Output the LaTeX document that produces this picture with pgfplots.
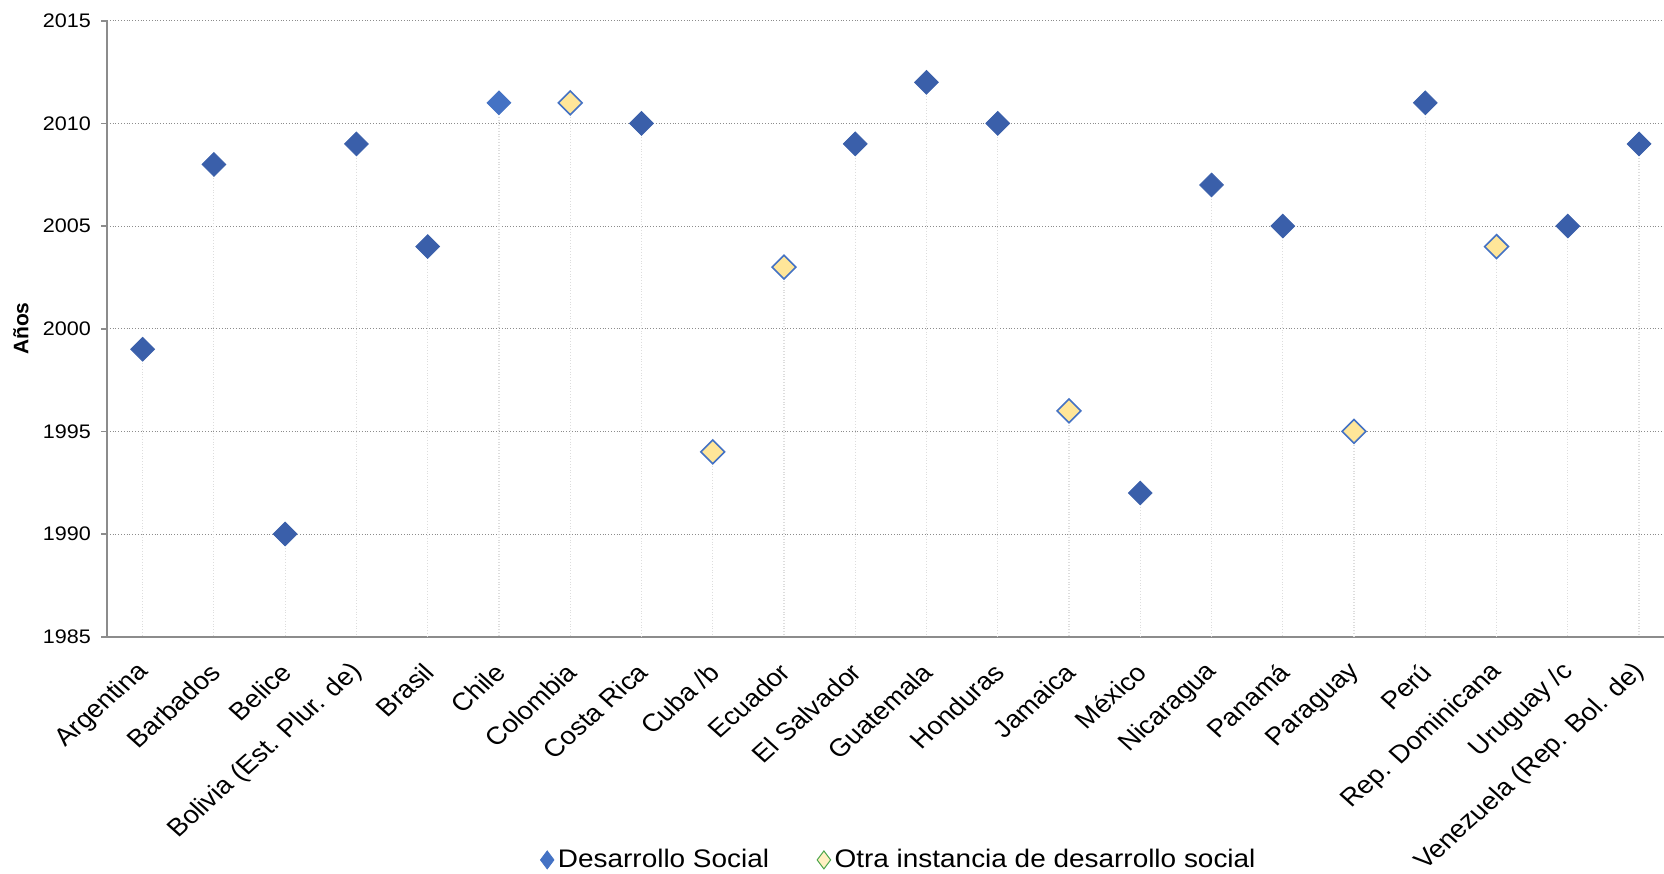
\documentclass[border=0pt]{standalone}
\usepackage{fontspec}
\setmainfont{Liberation Sans}[FakeStretch=1.1]
\newfontfamily\plainsans{Liberation Sans}
\usepackage{pgfplots}
\usepackage{pgfplotstable}
\pgfplotsset{compat=1.18}

\definecolor{dsblue}{HTML}{3A5FAA}
\definecolor{dslight}{HTML}{4472C4}
\definecolor{otfill}{HTML}{FFE699}
\definecolor{otdraw}{HTML}{4472C4}
\definecolor{gridgray}{HTML}{8C8C8C}
\definecolor{dropgray}{HTML}{DDDDDD}
\definecolor{axgray}{HTML}{8C8C8C}

% x = posicion del pais, y = año
\pgfplotstableread{
x y
0 1999
1 2008
2 1990
3 2009
4 2004
7 2010
10 2009
11 2012
12 2010
14 1992
15 2007
16 2005
18 2011
20 2005
21 2009
}\desarrollo

\pgfplotstableread{
x y
5 2011
}\chile

\pgfplotstableread{
x y
6 2011
8 1994
9 2003
13 1996
17 1995
19 2004
}\otra

\begin{document}
\begin{tikzpicture}
\begin{axis}[
    at={(0,0)}, anchor=south west,
    width=778.5pt, height=308pt,
    scale only axis,
    xmin=-0.5, xmax=21.35,
    ymin=1985, ymax=2015,
    ytick={1985,1990,...,2015},
    xtick={0,...,21},
    xticklabels={Argentina, Barbados, Belice, Bolivia (Est. Plur. de), Brasil, Chile, Colombia, Costa Rica, Cuba /b, Ecuador, El Salvador, Guatemala, Honduras, Jamaica, México, Nicaragua, Panamá, Paraguay, Perú, Rep. Dominicana, Uruguay /c, Venezuela (Rep. Bol. de)},
    xticklabel style={xshift=3.4pt, yshift=-10.2pt, xscale=1.11, rotate=45, anchor=east, font=\plainsans\fontsize{12.4}{14}\selectfont},
    yticklabel style={font=\fontsize{9.8}{12}\selectfont, xshift=-1.5pt},
    /pgf/number format/assume math mode=true,
    /pgf/number format/1000 sep={},
    axis lines*=left,
    axis line style={axgray, line width=0.8pt},
    x axis line style={-},
    y axis line style={-},
    major tick length=3pt,
    xtick style={draw=none},
    ytick style={axgray, line width=0.8pt},
    tick align=outside,
    ymajorgrids,
    grid style={gridgray, densely dotted, line width=0.5pt},
    ylabel={\textbf{Años}},
    every axis y label/.style={at={(axis description cs:0,0.5)}, xshift=-43pt, rotate=90, anchor=center, font=\plainsans\fontsize{10.5}{12}\selectfont},
    clip=false,
    legend columns=2,
    legend style={at={(axis description cs:0.5093,0)}, yshift=-111.6pt, anchor=center,
        draw=none, fill=none, font=\fontsize{12.7}{15}\selectfont,
        /tikz/every even column/.append style={column sep=22pt}},
    legend cell align=left,
]
    % lineas de caida hasta el eje
    \addplot[only marks, mark=square*, mark size=4.2pt,
        mark options={rotate=45, fill=dsblue, draw=dsblue},
        legend image code/.code={
            \draw[mark=diamond*, mark size=4.5pt, mark options={fill=dslight, draw=dslight}] plot coordinates {(0.15cm,0cm)};},
        error bars/.cd, y dir=minus, y explicit,
        error mark=none,
        error bar style={dropgray, densely dotted, line width=0.6pt}]
        table[x=x, y=y, y error minus expr=\thisrow{y}-1985] {\desarrollo};
    \addlegendentry{Desarrollo Social}

    \addplot[only marks, mark=square*, mark size=4.2pt,
        mark options={rotate=45, fill=otfill, draw=otdraw, line width=0.8pt},
        legend image code/.code={
            \draw[mark=diamond*, mark size=4.5pt, mark options={fill=otfill!60, draw=green!50!black!70, line width=0.5pt}] plot coordinates {(0.15cm,0cm)};},
        error bars/.cd, y dir=minus, y explicit,
        error mark=none,
        error bar style={dropgray, densely dotted, line width=0.6pt}]
        table[x=x, y=y, y error minus expr=\thisrow{y}-1985] {\otra};
    \addlegendentry{Otra instancia de desarrollo social}

    \addplot[forget plot, only marks, mark=square*, mark size=4.2pt,
        mark options={rotate=45, fill=dslight, draw=dslight},
        error bars/.cd, y dir=minus, y explicit,
        error mark=none,
        error bar style={dropgray, densely dotted, line width=0.6pt}]
        table[x=x, y=y, y error minus expr=\thisrow{y}-1985] {\chile};
\end{axis}
\pgfresetboundingbox
\path[use as bounding box] (-53.5pt,-118.15pt) rectangle (778.5pt,318.35pt);
\end{tikzpicture}
\end{document}
